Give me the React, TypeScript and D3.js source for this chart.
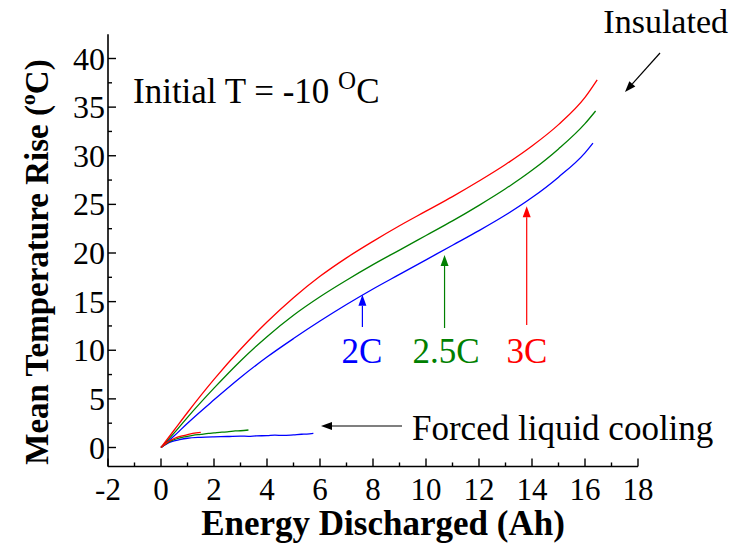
import React from 'react';
import * as d3 from 'd3';

// Insulated curves (Energy discharged in Ah vs mean temperature rise in oC)
const insX = [0, 0.5, 1, 2, 3, 4, 5, 6, 7, 8, 9, 10, 11, 12, 13, 14, 15, 16];
const ins2C = [0, 1.2, 2.5, 4.9, 7.2, 9.3, 11.2, 13.0, 14.7, 16.3, 17.8, 19.3, 20.8, 22.3, 23.9, 25.7, 27.8, 30.3];
const ins25C = [0, 1.5, 3.1, 6.1, 8.9, 11.4, 13.6, 15.5, 17.2, 18.8, 20.3, 21.8, 23.3, 24.9, 26.6, 28.5, 30.7, 33.3];
const ins3C = [0, 1.8, 3.6, 7.0, 10.1, 12.9, 15.4, 17.6, 19.5, 21.2, 22.8, 24.3, 25.8, 27.4, 29.1, 31.0, 33.2, 36.0];
// last points of each insulated run
const insEnd = [[16.3, 31.3], [16.4, 34.6], [16.46, 37.8]];

// Forced liquid cooling curves
const fc2CX = [0, 0.2, 0.4, 0.7, 1.0, 1.5, 2.0, 2.5, 3.0, 3.3, 3.6, 4.0, 4.3, 4.6, 5.0, 5.3, 5.5, 5.75];
const fc2C = [0, 0.35, 0.6, 0.8, 0.95, 1.05, 1.1, 1.13, 1.18, 1.15, 1.2, 1.22, 1.27, 1.24, 1.3, 1.36, 1.38, 1.45];
const fc25CX = [0, 0.2, 0.4, 0.6, 0.9, 1.2, 1.5, 1.8, 2.0, 2.3, 2.5, 2.8, 3.0, 3.3];
const fc25C = [0, 0.4, 0.7, 0.9, 1.1, 1.25, 1.35, 1.45, 1.5, 1.58, 1.6, 1.7, 1.72, 1.8];
const fc3CX = [0, 0.2, 0.4, 0.6, 0.9, 1.2, 1.5];
const fc3C = [0, 0.45, 0.8, 1.05, 1.25, 1.45, 1.55];

const xTicks = [-2, 0, 2, 4, 6, 8, 10, 12, 14, 16, 18];
const yTicks = [0, 5, 10, 15, 20, 25, 30, 35, 40];

const colors = { c2: '#0000ff', c25: '#008000', c3: '#ff0000' };
const font = '"Liberation Serif", "Times New Roman", serif';

const x = d3.scaleLinear().domain([-2, 18]).range([108, 638]);
const y = d3.scaleLinear().domain([0, 40]).range([447.5, 58.5]);
const yBottom = -1.95;
const yTop = 42.5;

const line = d3.line<[number, number]>()
  .x(d => x(d[0]))
  .y(d => y(d[1]))
  .curve(d3.curveMonotoneX);

const zip = (xs: number[], ys: number[]) => xs.map((v, i) => [v, ys[i]] as [number, number]);

const Arrow = ({ x1, y1, x2, y2, color, head = 11, w = 4 }) => {
  const a = Math.atan2(y2 - y1, x2 - x1);
  const bx = x2 - head * Math.cos(a);
  const by = y2 - head * Math.sin(a);
  const px = -Math.sin(a) * w;
  const py = Math.cos(a) * w;
  return (
    <g>
      <line x1={x1} y1={y1} x2={bx} y2={by} stroke={color} strokeWidth={1.2} />
      <path d={`M${x2},${y2}L${bx + px},${by + py}L${bx - px},${by - py}Z`} fill={color} />
    </g>
  );
};

export default function App() {
  const ins = [ins2C, ins25C, ins3C].map((s, i) => [...zip(insX, s), insEnd[i] as [number, number]]);
  const fc = [zip(fc2CX, fc2C), zip(fc25CX, fc25C), zip(fc3CX, fc3C)];
  const cols = [colors.c2, colors.c25, colors.c3];
  const minorX = d3.range(-1, 18, 2);
  const minorY = d3.range(2.5, 42.5, 5);

  return (
    <svg width={731} height={548} style={{ position: 'absolute', left: 0, top: 0, background: '#fff' }} fontFamily={font}>
      {/* axes */}
      <line x1={x(-2)} x2={x(18)} y1={y(yBottom)} y2={y(yBottom)} stroke="#000" strokeWidth={1.6} />
      <line x1={x(-2)} x2={x(-2)} y1={y(yBottom)} y2={y(yTop)} stroke="#000" strokeWidth={1.6} />
      {xTicks.map(t => (
        <g key={'x' + t}>
          <line x1={x(t)} x2={x(t)} y1={y(yBottom)} y2={y(yBottom) - 8} stroke="#000" strokeWidth={1.4} />
          <text x={x(t)} y={500} textAnchor="middle" fontSize={31}>{t}</text>
        </g>
      ))}
      {minorX.map(t => (
        <line key={'mx' + t} x1={x(t)} x2={x(t)} y1={y(yBottom)} y2={y(yBottom) - 4} stroke="#000" strokeWidth={1.4} />
      ))}
      {yTicks.map(t => (
        <g key={'y' + t}>
          <line x1={x(-2)} x2={x(-2) + 8} y1={y(t)} y2={y(t)} stroke="#000" strokeWidth={1.4} />
          <text x={x(-2) - 3} y={y(t) + 11} textAnchor="end" fontSize={32}>{t}</text>
        </g>
      ))}
      {minorY.map(t => (
        <line key={'my' + t} x1={x(-2)} x2={x(-2) + 4} y1={y(t)} y2={y(t)} stroke="#000" strokeWidth={1.4} />
      ))}

      {/* axis titles */}
      <text x={383} y={535} textAnchor="middle" fontSize={35} fontWeight="bold">Energy Discharged (Ah)</text>
      <text transform="translate(48,262) rotate(-90)" textAnchor="middle" fontSize={33} fontWeight="bold">
        Mean Temperature Rise (<tspan fontSize={22} dy={-13}>o</tspan><tspan dy={13}>C)</tspan>
      </text>

      {/* curves */}
      {ins.map((d, i) => (
        <path key={'ins' + i} d={line(d) ?? ''} fill="none" stroke={cols[i]} strokeWidth={1.3} />
      ))}
      {fc.map((d, i) => (
        <path key={'fc' + i} d={line(d) ?? ''} fill="none" stroke={cols[i]} strokeWidth={1.3} />
      ))}

      {/* annotations */}
      <text x={133} y={103} fontSize={35}>Initial T = -10 <tspan fontSize={25} dy={-14}>O</tspan><tspan dy={14}>C</tspan></text>
      <text x={728} y={33} textAnchor="end" fontSize={34}>Insulated</text>
      <Arrow x1={660} y1={53} x2={625} y2={92} color="#000" />
      <Arrow x1={x(7.6)} y1={327} x2={x(7.6)} y2={y(15.7)} color={colors.c2} />
      <Arrow x1={x(10.7)} y1={328} x2={x(10.7)} y2={y(19.8)} color={colors.c25} />
      <Arrow x1={x(13.8)} y1={325} x2={x(13.8)} y2={y(24.8)} color={colors.c3} />
      <text x={362} y={363} textAnchor="middle" fontSize={35} fill={colors.c2}>2C</text>
      <text x={446} y={363} textAnchor="middle" fontSize={35} fill={colors.c25}>2.5C</text>
      <text x={527} y={363} textAnchor="middle" fontSize={35} fill={colors.c3}>3C</text>
      <Arrow x1={402} y1={426} x2={321} y2={426} color="#000" />
      <text x={412} y={440} fontSize={35}>Forced liquid cooling</text>
    </svg>
  );
}
